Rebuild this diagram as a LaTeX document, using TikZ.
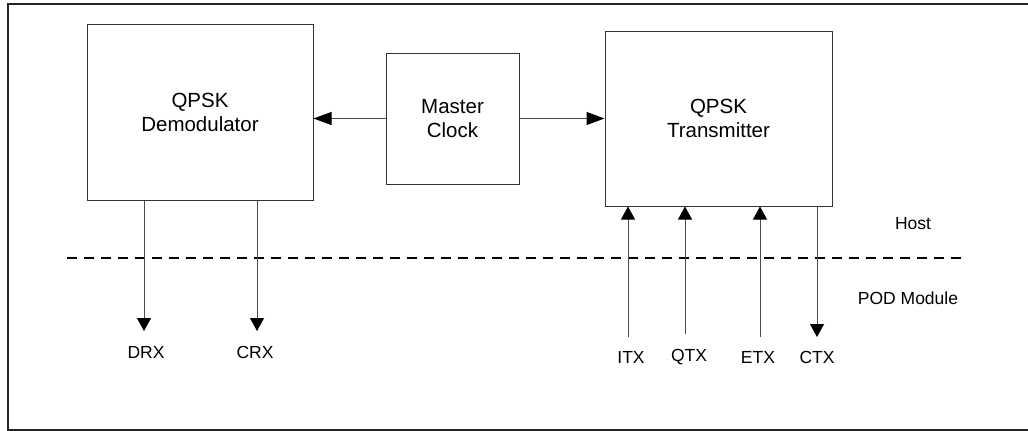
\documentclass[tikz,border=0pt]{standalone}
\usepackage{fontspec}
\setmainfont{Liberation Sans}
\usetikzlibrary{arrows.meta}
\begin{document}
\begin{tikzpicture}[x=1pt,y=-1pt,
  blk/.style={draw=black!80,line width=1pt,rectangle,inner sep=0pt,align=center,
    font=\fontsize{20.5}{24}\selectfont},
  lbl/.style={inner sep=0pt,font=\fontsize{17.5}{20}\selectfont},
  sig/.style={draw=black!70,line width=1pt,-{Triangle[length=13pt,width=14pt,color=black]}},
  hsig/.style={draw=black!70,line width=1pt,-{Triangle[length=18pt,width=13pt,color=black]}},
  sep/.style={draw=black,line width=2pt,dash pattern=on 10pt off 7pt}]
\useasboundingbox (0,0) rectangle (1028,431);
\draw[line width=2pt,black!85] (8,3.5) rectangle (1032,429.5);
\node[blk,minimum width=226pt,minimum height=176pt] (demod) at (200,112) {QPSK\\Demodulator};
\node[blk,minimum width=133pt,minimum height=131pt] (clock) at (452.5,118.5) {Master\\Clock};
\node[blk,minimum width=227pt,minimum height=175pt] (tx) at (718.5,118.5) {QPSK\\Transmitter};
\draw[hsig] (clock.west) -- (clock.west -| demod.east);
\draw[hsig] (clock.east) -- (clock.east -| tx.west);
\coordinate (sepL) at (67,258);
\coordinate (sepR) at (964,258);
\draw[sep] (sepL) -- (sepR);
\coordinate (drxend) at (144,331);
\coordinate (crxend) at (257,331);
\draw[sig] (demod.south -| drxend) -- (drxend);
\draw[sig] (demod.south -| crxend) -- (crxend);
\node[lbl] (drx) at (146,352) {DRX};
\node[lbl] (crx) at (255,352) {CRX};
\coordinate (itxs) at (628,337);
\coordinate (qtxs) at (685,334);
\coordinate (etxs) at (760,337);
\coordinate (ctxe) at (817,337);
\draw[sig] (itxs) -- (itxs |- tx.south);
\draw[sig] (qtxs) -- (qtxs |- tx.south);
\draw[sig] (etxs) -- (etxs |- tx.south);
\draw[sig] (ctxe |- tx.south) -- (ctxe);
\node[lbl] (itx) at (631,357) {ITX};
\node[lbl] (qtx) at (689,357) {QTX};
\node[lbl] (etx) at (758,357) {ETX};
\node[lbl] (ctx) at (817,357) {CTX};
\node[lbl] (host) at (913,224) {Host};
\node[lbl] (pod) at (908,298) {POD Module};
\end{tikzpicture}
\end{document}
